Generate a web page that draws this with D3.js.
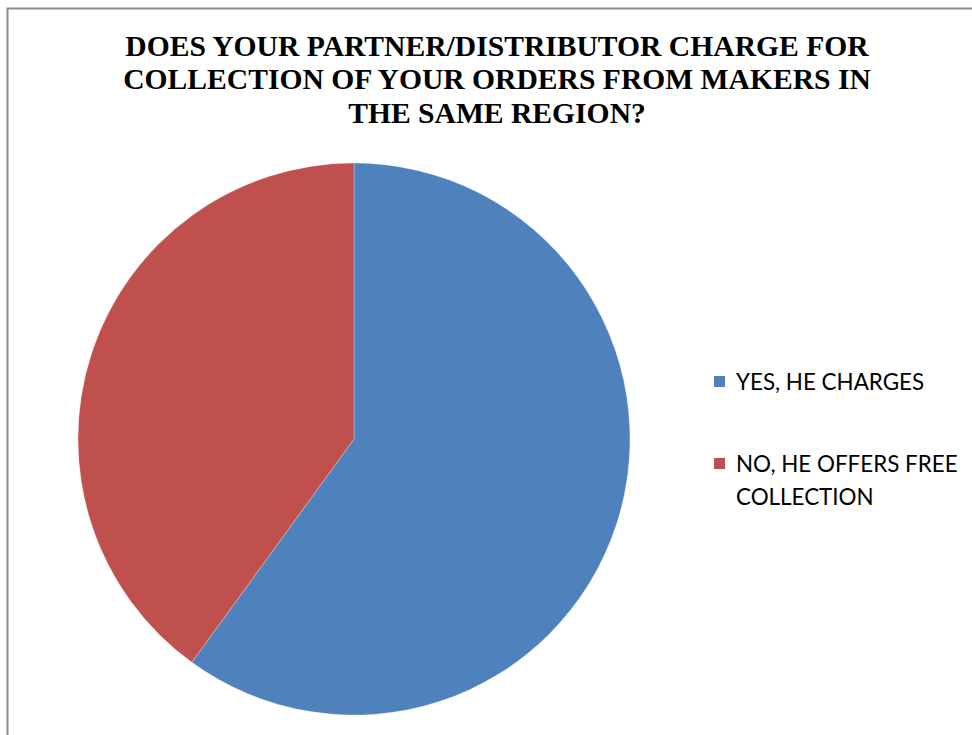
<!DOCTYPE html>
<html>
<head>
<meta charset="utf-8">
<script src="https://cdn.jsdelivr.net/npm/d3@7/dist/d3.min.js"></script>
<style>
  html, body { margin: 0; padding: 0; background: #fff; }
  svg { display: block; }
</style>
</head>
<body>
<svg id="chart" width="972" height="735"></svg>
<script>
// Survey answers (share of respondents)
const categories = ["YES, HE CHARGES", "NO, HE OFFERS FREE COLLECTION"];
const values = [60, 40];
const colors = ["#4F81BD", "#C0504D"];
const titleLines = [
  "DOES YOUR PARTNER/DISTRIBUTOR CHARGE FOR",
  "COLLECTION OF YOUR ORDERS FROM MAKERS IN",
  "THE SAME REGION?"
];
const legendLines = [["YES, HE CHARGES"], ["NO, HE OFFERS FREE", "COLLECTION"]];

const svg = d3.select("#chart");
const W = 972, H = 735;

// Chart area frame (extends past the right and bottom edges)
svg.append("rect")
  .attr("x", 7.5).attr("y", 8.5)
  .attr("width", W + 10).attr("height", H + 10)
  .attr("fill", "#fff")
  .attr("stroke", "#8c8c8c")
  .attr("stroke-width", 2);

// Title
const title = svg.append("text")
  .attr("text-anchor", "middle")
  .attr("font-family", "'Liberation Serif', 'Times New Roman', serif")
  .attr("font-weight", "bold")
  .attr("font-size", 29.6)
  .attr("fill", "#000");
titleLines.forEach((t, i) => {
  title.append("tspan").attr("x", 497).attr("y", 56 + i * 33.3).text(t);
});

// Pie
const cx = 354, cy = 439, r = 276;
const pie = d3.pie().sort(null).value(d => d);
const arc = d3.arc().innerRadius(0).outerRadius(r);
const color = d3.scaleOrdinal().domain(categories).range(colors);

svg.append("g")
  .attr("transform", `translate(${cx},${cy})`)
  .selectAll("path")
  .data(pie(values))
  .join("path")
  .attr("d", arc)
  .attr("fill", (d, i) => color(categories[i]))
  .attr("stroke", "#ffffff")
  .attr("stroke-opacity", 0.35)
  .attr("stroke-width", 0.8);

// Legend
const legend = svg.append("g")
  .attr("font-family", "Lato, 'Open Sans', sans-serif")
  .attr("font-size", 22.4)
  .attr("fill", "#000");
const legendY = [390, 472];
categories.forEach((c, i) => {
  legend.append("rect")
    .attr("x", 714).attr("y", legendY[i] - 14)
    .attr("width", 11).attr("height", 11)
    .attr("fill", color(c));
  const t = legend.append("text");
  legendLines[i].forEach((line, j) => {
    t.append("tspan").attr("x", 736).attr("y", legendY[i] + j * 33).text(line);
  });
});
</script>
</body>
</html>
